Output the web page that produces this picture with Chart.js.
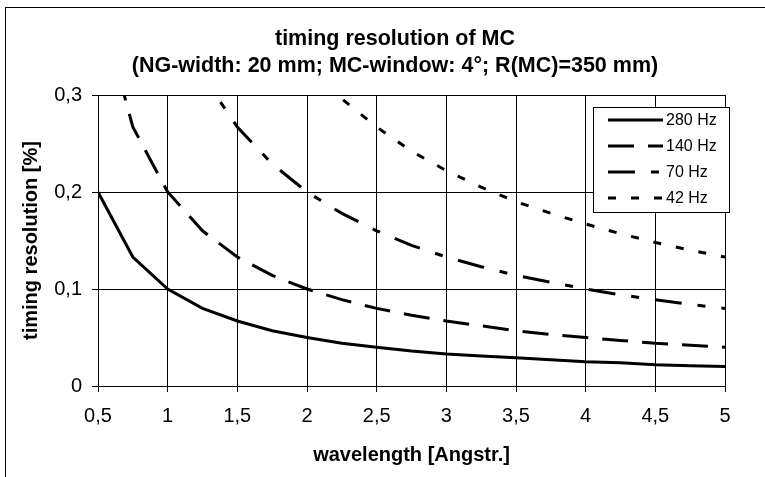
<!DOCTYPE html>
<html>
<head>
<meta charset="utf-8">
<script src="https://cdn.jsdelivr.net/npm/chart.js@4.4.0/dist/chart.umd.min.js"></script>
<style>
  html, body { margin: 0; padding: 0; background: #fff; overflow: hidden; }
  #wrap { position: relative; width: 765px; height: 477px; overflow: hidden; }
  #frame { position: absolute; left: 5px; top: 7px; width: 900px; height: 600px; border: 1px solid #000; }
  #chart { position: absolute; left: 0; top: 0; }
</style>
</head>
<body>
<div id="wrap">
  <div id="frame"></div>
  <canvas id="chart" width="790" height="477"></canvas>
</div>
<script>
// ====== Datos ======
const wavelengths = [0.5, 0.75, 1, 1.25, 1.5, 1.75, 2, 2.25, 2.5, 2.75, 3, 3.25, 3.5, 3.75, 4, 4.25, 4.5, 4.75, 5];
const seriesLabels = ['280 Hz', '140 Hz', '70 Hz', '42 Hz'];
const res280 = [0.2, 0.133, 0.1, 0.08, 0.067, 0.057, 0.05, 0.044, 0.04, 0.036, 0.033, 0.031, 0.029, 0.027, 0.025, 0.024, 0.022, 0.021, 0.02];
const res140 = [0.4, 0.267, 0.2, 0.16, 0.133, 0.114, 0.1, 0.089, 0.08, 0.073, 0.067, 0.062, 0.057, 0.053, 0.05, 0.047, 0.044, 0.042, 0.04];
const res70 = [0.8, 0.533, 0.4, 0.32, 0.267, 0.229, 0.2, 0.178, 0.16, 0.145, 0.133, 0.123, 0.114, 0.107, 0.1, 0.094, 0.089, 0.084, 0.08];
const res42 = [1.333, 0.889, 0.667, 0.533, 0.444, 0.381, 0.333, 0.296, 0.267, 0.242, 0.222, 0.205, 0.19, 0.178, 0.167, 0.157, 0.148, 0.14, 0.133];
const titleLines = ['timing resolution of MC', '(NG-width: 20 mm; MC-window: 4°; R(MC)=350 mm)'];

const FONT = '"Liberation Sans", Arial, sans-serif';
Chart.defaults.color = '#000';
Chart.defaults.font.family = FONT;

const pts = arr => arr.map((v, i) => ({ x: wavelengths[i], y: v }));
const dashes = [[], [26, 14], [27, 16, 8, 16], [8, 15]];
const allSeries = [res280, res140, res70, res42];

const datasets = allSeries.map((s, i) => ({
    label: seriesLabels[i],
    data: pts(s),
    borderColor: '#000',
    borderWidth: 3,
    borderDash: dashes[i],
    pointRadius: 0,
    tension: 0,
    fill: false
}));

const comma = v => Number(v.toFixed(2)).toString().replace('.', ',');

// ====== Leyenda con recuadro ======
const boxLegend = {
    id: 'boxLegend',
    afterDraw(chart) {
        const ctx = chart.ctx;
        const a = chart.chartArea;
        const bx = a.right - 132, by = a.top + 12, bw = 136, bh = 105;
        ctx.save();
        ctx.fillStyle = '#fff';
        ctx.fillRect(bx, by, bw, bh);
        ctx.strokeStyle = '#000';
        ctx.lineWidth = 1;
        ctx.setLineDash([]);
        ctx.strokeRect(bx + 0.5, by + 0.5, bw, bh);
        ctx.font = '16px ' + FONT;
        ctx.textBaseline = 'middle';
        ctx.fillStyle = '#000';
        chart.data.datasets.forEach((ds, i) => {
            const y = by + 13 + i * 26;
            ctx.beginPath();
            ctx.setLineDash(ds.borderDash);
            ctx.lineWidth = 3;
            ctx.moveTo(bx + 15, y);
            ctx.lineTo(bx + 70, y);
            ctx.stroke();
            ctx.setLineDash([]);
            ctx.fillText(ds.label, bx + 73, y + 1);
        });
        ctx.restore();
    }
};

const ctx = document.getElementById('chart').getContext('2d');
const chart = new Chart(ctx, {
    type: 'line',
    data: { datasets },
    options: {
        responsive: false,
        animation: false,
        devicePixelRatio: 1,
        layout: { padding: 0 },
        plugins: {
            legend: { display: false },
            tooltip: { enabled: false },
            title: {
                display: true,
                text: titleLines,
                color: '#000',
                font: { size: 21.5, weight: 'bold', lineHeight: '27px' },
                padding: { top: 26, bottom: 15 }
            }
        },
        scales: {
            x: {
                type: 'linear',
                min: 0.5,
                max: 5,
                afterFit: s => { s.height = 91; },
                ticks: { stepSize: 0.5, padding: 12, font: { size: 20 }, callback: comma, maxRotation: 0 },
                grid: { color: '#000', lineWidth: 1, tickLength: 6 },
                border: { color: '#000', width: 1 },
                title: {
                    display: true,
                    text: 'wavelength [Angstr.]',
                    font: { size: 20, weight: 'bold' },
                    padding: { top: 0, bottom: 10 }
                }
            },
            y: {
                min: 0,
                max: 0.3,
                afterFit: s => { s.width = 98; },
                ticks: { stepSize: 0.1, padding: 10, font: { size: 20 }, callback: comma },
                grid: { color: '#000', lineWidth: 1, tickLength: 6 },
                border: { color: '#000', width: 1 },
                title: {
                    display: true,
                    text: 'timing resolution [%]',
                    font: { size: 20, weight: 'bold' },
                    padding: { top: 19, bottom: 0 }
                }
            },
            // espacio vacio a la derecha del area de trazado
            yRight: {
                position: 'right',
                min: 0,
                max: 0.3,
                afterFit: s => { s.width = 65; },
                ticks: { display: false },
                grid: { display: false },
                border: { display: false }
            }
        }
    },
    plugins: [boxLegend]
});
</script>
</body>
</html>
